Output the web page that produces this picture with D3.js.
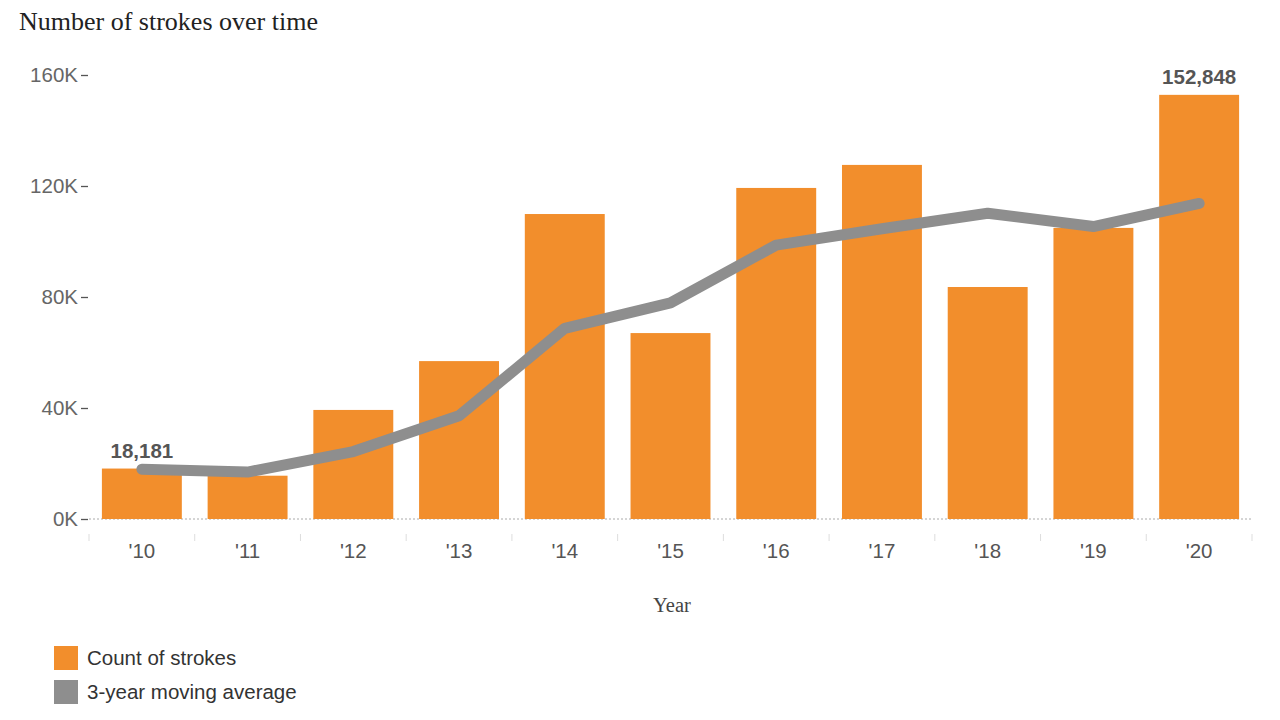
<!DOCTYPE html>
<html>
<head>
<meta charset="utf-8">
<script src="https://cdn.jsdelivr.net/npm/d3@7"></script>
<style>
  body { margin: 0; background: #fff; }
  svg { display: block; }
</style>
</head>
<body>
<svg id="chart" width="1280" height="720"></svg>
<script>
const years = ["'10", "'11", "'12", "'13", "'14", "'15", "'16", "'17", "'18", "'19", "'20"];
const strokeCounts = [18181, 15600, 39300, 56900, 109900, 67000, 119300, 127600, 83600, 104900, 152848];
const movingAverage = [17900, 16900, 24300, 37200, 68700, 77900, 98700, 104600, 110200, 105400, 113700];
const yTicks = [0, 40000, 80000, 120000, 160000];
const labelledYears = ["'10", "'20"];

const svg = d3.select("#chart");
const orange = "#f28e2c";
const gray = "#8e8e8e";
const sans = "'Liberation Sans', Arial, sans-serif";
const serif = "'Liberation Serif', 'Times New Roman', serif";

const x = d3.scaleBand().domain(years).range([89, 1252]).paddingInner(0.244).paddingOuter(0.122);
const y = d3.scaleLinear().domain([0, 160000]).range([519, 75]);

// Title
svg.append("text").attr("x", 19).attr("y", 30)
  .attr("font-family", serif)
  .attr("font-size", 26).attr("fill", "#222")
  .text("Number of strokes over time");

// Y axis
const yAxis = svg.append("g").attr("transform", "translate(88,0)")
  .call(d3.axisLeft(y).tickValues(yTicks).tickSize(7).tickPadding(3)
    .tickFormat(d => (d / 1000) + "K"));
yAxis.select(".domain").remove();
yAxis.selectAll("line").attr("stroke", "#555").attr("stroke-width", 1.3);
yAxis.selectAll("text").attr("font-family", sans)
  .attr("font-size", 20.5).attr("fill", "#666");

// Zero baseline dotted
svg.append("line").attr("x1", 89).attr("x2", 1252).attr("y1", y(0)).attr("y2", y(0))
  .attr("stroke", "#aaa").attr("stroke-width", 1).attr("stroke-dasharray", "2,2");

// Bars
svg.append("g").selectAll("rect").data(years).join("rect")
  .attr("x", d => x(d)).attr("width", x.bandwidth())
  .attr("y", (d, i) => y(strokeCounts[i]))
  .attr("height", (d, i) => y(0) - y(strokeCounts[i]))
  .attr("fill", orange);

// X axis
const xAxis = svg.append("g").attr("transform", "translate(0,534)")
  .call(d3.axisBottom(x).tickSize(0).tickPadding(9));
xAxis.select(".domain").remove();
xAxis.selectAll("text").attr("font-family", sans)
  .attr("font-size", 20.5).attr("fill", "#555");
// band separators
const seps = years.map(d => x(d) - x.step() * x.paddingInner() / 2).concat([x(years[years.length - 1]) + x.bandwidth() + x.step() * x.paddingInner() / 2]);
svg.append("g").selectAll("line").data(seps).join("line")
  .attr("x1", d => d).attr("x2", d => d).attr("y1", 534).attr("y2", 541)
  .attr("stroke", "#ddd").attr("stroke-width", 1);

// X title
svg.append("text").attr("x", 672).attr("y", 612).attr("text-anchor", "middle")
  .attr("font-family", serif)
  .attr("font-size", 20.5).attr("fill", "#444").text("Year");

// Moving average line
const line = d3.line()
  .x((d, i) => x(years[i]) + x.bandwidth() / 2)
  .y(d => y(d));
svg.append("path").datum(movingAverage).attr("d", line)
  .attr("fill", "none").attr("stroke", gray).attr("stroke-width", 11)
  .attr("stroke-linejoin", "round").attr("stroke-linecap", "round");

// Value labels
svg.append("g").selectAll("text").data(labelledYears).join("text")
  .attr("x", d => x(d) + x.bandwidth() / 2)
  .attr("y", d => y(strokeCounts[years.indexOf(d)]) - 11)
  .attr("text-anchor", "middle")
  .attr("font-family", sans)
  .attr("font-weight", "bold").attr("font-size", 20.5).attr("fill", "#555")
  .text(d => d3.format(",")(strokeCounts[years.indexOf(d)]));

// Legend
const legendItems = [
  { label: "Count of strokes", color: orange },
  { label: "3-year moving average", color: gray }
];
const lg = svg.append("g").selectAll("g").data(legendItems).join("g")
  .attr("transform", (d, i) => `translate(54,${646 + i * 34})`);
lg.append("rect").attr("width", 24).attr("height", 24).attr("fill", d => d.color);
lg.append("text").attr("x", 33).attr("y", 19)
  .attr("font-family", sans)
  .attr("font-size", 20.5).attr("fill", "#333").text(d => d.label);
</script>
</body>
</html>
